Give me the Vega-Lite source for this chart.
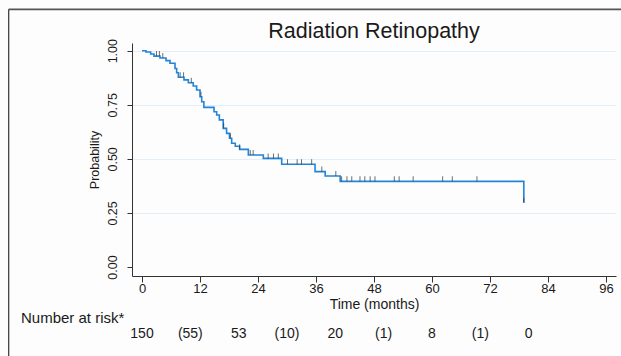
{
  "$schema": "https://vega.github.io/schema/vega-lite/v6.json",
  "width": 484,
  "height": 233,
  "autosize": {"type": "none"},
  "padding": {"left": 132, "top": 43, "right": 5, "bottom": 80},
  "background": "#fdfdfd",
  "config": {"view": {"stroke": null}, "font": "Liberation Sans"},
  "title": {"text": "Radiation Retinopathy", "fontSize": 21.5, "fontWeight": "normal", "font": "Liberation Sans", "color": "#1a1a1a", "anchor": "middle", "baseline": "alphabetic", "frame": "group", "offset": 4.7, "dy": 55.4},
  "datasets": {
    "km": [
      {"t": 0, "s": 1.0}, {"t": 0.83, "s": 0.994}, {"t": 1.79, "s": 0.985}, {"t": 2.48, "s": 0.975},
      {"t": 3.72, "s": 0.966}, {"t": 4.97, "s": 0.954}, {"t": 5.79, "s": 0.942}, {"t": 6.83, "s": 0.918},
      {"t": 7.17, "s": 0.898}, {"t": 7.52, "s": 0.877}, {"t": 8.69, "s": 0.865}, {"t": 9.59, "s": 0.852},
      {"t": 10.6, "s": 0.837}, {"t": 11.3, "s": 0.818}, {"t": 12.0, "s": 0.787}, {"t": 12.35, "s": 0.764},
      {"t": 12.8, "s": 0.738}, {"t": 14.9, "s": 0.718}, {"t": 15.45, "s": 0.703}, {"t": 16.0, "s": 0.68},
      {"t": 16.8, "s": 0.641}, {"t": 17.5, "s": 0.618}, {"t": 18.1, "s": 0.595}, {"t": 18.55, "s": 0.572},
      {"t": 19.3, "s": 0.558}, {"t": 20.2, "s": 0.544}, {"t": 22.0, "s": 0.518}, {"t": 25.1, "s": 0.502},
      {"t": 28.9, "s": 0.475}, {"t": 35.8, "s": 0.441}, {"t": 37.9, "s": 0.421}, {"t": 41.0, "s": 0.396},
      {"t": 79.0, "s": 0.297}
    ],
    "censor": [
      {"t": 3.0, "s": 0.975}, {"t": 3.6, "s": 0.975}, {"t": 4.3, "s": 0.966}, {"t": 7.9, "s": 0.877},
      {"t": 8.6, "s": 0.877}, {"t": 10.2, "s": 0.852}, {"t": 12.2, "s": 0.787}, {"t": 16.9, "s": 0.641},
      {"t": 18.3, "s": 0.595}, {"t": 20.2, "s": 0.544}, {"t": 22.4, "s": 0.518}, {"t": 23.0, "s": 0.518},
      {"t": 26.1, "s": 0.502}, {"t": 27.2, "s": 0.502}, {"t": 28.2, "s": 0.502}, {"t": 30.1, "s": 0.475},
      {"t": 32.1, "s": 0.475}, {"t": 33.0, "s": 0.475}, {"t": 35.1, "s": 0.475}, {"t": 37.2, "s": 0.441},
      {"t": 40.1, "s": 0.421}, {"t": 41.3, "s": 0.396}, {"t": 42.4, "s": 0.396}, {"t": 43.4, "s": 0.396},
      {"t": 45.1, "s": 0.396}, {"t": 46.1, "s": 0.396}, {"t": 47.2, "s": 0.396}, {"t": 48.2, "s": 0.396},
      {"t": 52.2, "s": 0.396}, {"t": 53.2, "s": 0.396}, {"t": 56.1, "s": 0.396}, {"t": 62.2, "s": 0.396},
      {"t": 64.2, "s": 0.396}, {"t": 69.3, "s": 0.396}, {"t": 79.0, "s": 0.297}
    ],
    "risk": [
      {"t": 0, "n": "150"}, {"t": 10, "n": "(55)"}, {"t": 20, "n": "53"}, {"t": 30, "n": "(10)"},
      {"t": 40, "n": "20"}, {"t": 50, "n": "(1)"}, {"t": 60, "n": "8"}, {"t": 70, "n": "(1)"}, {"t": 80, "n": "0"}
    ]
  },
  "layer": [
    {
      "data": {"name": "km"},
      "mark": {"type": "line", "interpolate": "step-after", "color": "#2384d8", "strokeWidth": 1.6},
      "encoding": {
        "x": {"field": "t", "type": "quantitative",
          "scale": {"domain": [-2.07, 98.07], "nice": false, "zero": false},
          "axis": {"title": "Time (months)", "values": [0, 12, 24, 36, 48, 60, 72, 84, 96], "grid": false,
            "domainColor": "#333333", "tickColor": "#333333", "tickSize": 6, "labelFontSize": 13,
            "labelColor": "#1a1a1a", "labelBaseline": "alphabetic", "labelPadding": 10.5, "labelFont": "Liberation Sans",
            "titleFontSize": 14, "titleFontWeight": "normal", "titleColor": "#1a1a1a", "titleFont": "Liberation Sans",
            "titleBaseline": "alphabetic", "titleX": 242, "titleY": 32.5, "titleAlign": "center"}},
        "y": {"field": "s", "type": "quantitative",
          "scale": {"domain": [-0.0416, 1.0356], "nice": false, "zero": false},
          "axis": {"title": "Probability", "values": [0, 0.25, 0.5, 0.75, 1], "format": ".2f",
            "grid": true, "gridColor": {"condition": {"test": "datum.value === 0", "value": "transparent"}, "value": "#e2eef8"},
            "domainColor": "#333333", "tickColor": "#333333", "tickSize": 5, "labelFontSize": 12.5,
            "labelColor": "#1a1a1a", "labelAngle": -90, "labelAlign": "center", "labelBaseline": "alphabetic",
            "labelPadding": 10.7, "labelFont": "Liberation Sans",
            "titleFontSize": 12.5, "titleFontWeight": "normal", "titleColor": "#1a1a1a", "titleFont": "Liberation Sans",
            "titleAngle": -90, "titleBaseline": "alphabetic", "titleAlign": "center", "titleX": -34, "titleY": 116.5}}
      }
    },
    {
      "data": {"name": "censor"},
      "mark": {"type": "tick", "orient": "vertical", "size": 5, "thickness": 1, "color": "#333333", "yOffset": -2.5},
      "encoding": {
        "x": {"field": "t", "type": "quantitative"},
        "y": {"field": "s", "type": "quantitative"}
      }
    },
    {
      "data": {"name": "risk"},
      "mark": {"type": "text", "align": "center", "baseline": "alphabetic", "fontSize": 14, "color": "#1a1a1a", "font": "Liberation Sans"},
      "encoding": {
        "x": {"field": "t", "type": "quantitative"},
        "y": {"datum": -0.328, "type": "quantitative"},
        "text": {"field": "n"}
      }
    },
    {
      "data": {"values": [{"label": "Number at risk*"}]},
      "mark": {"type": "text", "align": "left", "baseline": "alphabetic", "fontSize": 15, "color": "#1a1a1a", "font": "Liberation Sans"},
      "encoding": {
        "x": {"datum": -25.04, "type": "quantitative"},
        "y": {"datum": -0.2603, "type": "quantitative"},
        "text": {"field": "label"}
      }
    },
    {
      "data": {"values": [{"k": "left"}]},
      "mark": {"type": "rule", "color": "#333333", "strokeWidth": 1.2},
      "encoding": {
        "x": {"datum": -27.58, "type": "quantitative"},
        "y": {"datum": 1.1914, "type": "quantitative"},
        "y2": {"datum": -0.45}
      }
    },
    {
      "data": {"values": [{"k": "top"}]},
      "mark": {"type": "rule", "color": "#555555", "strokeWidth": 1.8},
      "encoding": {
        "x": {"datum": -27.58, "type": "quantitative"},
        "x2": {"datum": 120},
        "y": {"datum": 1.1914, "type": "quantitative"}
      }
    }
  ]
}
